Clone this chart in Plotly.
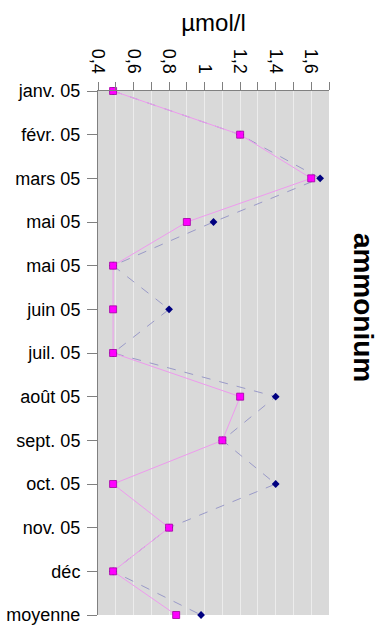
import plotly.graph_objects as go

# Monthly ammonium concentrations (µmol/l), two series
categories = ["janv. 05", "févr. 05", "mars 05", "mai 05", "mai 05", "juin 05",
              "juil. 05", "août 05", "sept. 05", "oct. 05", "nov. 05", "déc", "moyenne"]
series_a = [0.485, 1.2, 1.65, 1.05, 0.485, 0.8, 0.485, 1.4, 1.1, 1.4, 0.8, 0.485, 0.98]
series_b = [0.485, 1.2, 1.6, 0.9, 0.485, 0.485, 0.485, 1.2, 1.1, 0.485, 0.8, 0.485, 0.84]
x_ticks = [0.4, 0.6, 0.8, 1.0, 1.2, 1.4, 1.6]
x_tick_text = ["0,4", "0,6", "0,8", "1", "1,2", "1,4", "1,6"]

positions = list(range(len(categories)))

fig = go.Figure()

fig.add_trace(go.Scatter(
    x=series_a, y=positions, mode="lines+markers",
    line=dict(color="#9a9ac8", width=1, dash="dash"),
    marker=dict(symbol="diamond", size=6, color="#000080",
                line=dict(color="#000080", width=0)),
    showlegend=False, cliponaxis=False,
))
fig.add_trace(go.Scatter(
    x=series_b, y=positions, mode="lines+markers",
    line=dict(color="#ee9aee", width=1),
    marker=dict(symbol="square", size=7, color="#ff00ff",
                line=dict(color="#a000a0", width=0.8)),
    showlegend=False, cliponaxis=False,
))

font_family = "Liberation Sans, Arial, sans-serif"

fig.update_layout(
    width=385, height=627,
    margin=dict(l=98, r=56, t=91, b=12),
    paper_bgcolor="white",
    plot_bgcolor="#d9d9d9",
    separators=", ",
    font=dict(family=font_family, size=18, color="black"),
    xaxis=dict(
        side="top", range=[0.4, 1.7], automargin=False,
        tickvals=x_ticks, ticktext=x_tick_text,
        tickangle=90, ticks="outside", ticklen=8, tickcolor="#808080",
        ticklabelstandoff=2,
        tickfont=dict(size=18),
        showgrid=True, gridcolor="#ececec", gridwidth=1,
        minor=dict(dtick=0.1, tick0=0.4, ticks="outside", ticklen=8,
                   tickcolor="#808080", showgrid=True, gridcolor="#ececec"),
        showline=True, linecolor="#808080", linewidth=1,
        zeroline=False,
        title=dict(text="µmol/l", font=dict(size=24), standoff=10),
    ),
    yaxis=dict(
        range=[12, 0], automargin=False,
        tickvals=positions, ticktext=categories,
        ticks="outside", ticklen=10, tickcolor="#808080",
        ticklabelstandoff=3,
        tickfont=dict(size=18),
        showgrid=False, zeroline=False,
        showline=True, linecolor="#808080", linewidth=1,
    ),
    annotations=[dict(
        text="<b>ammonium</b>", textangle=90,
        xref="paper", yref="paper", x=1.0, y=0.588,
        xanchor="center", yanchor="middle",
        xshift=34, showarrow=False,
        font=dict(size=28, family=font_family),
    )],
)

fig.write_html("out.html")
